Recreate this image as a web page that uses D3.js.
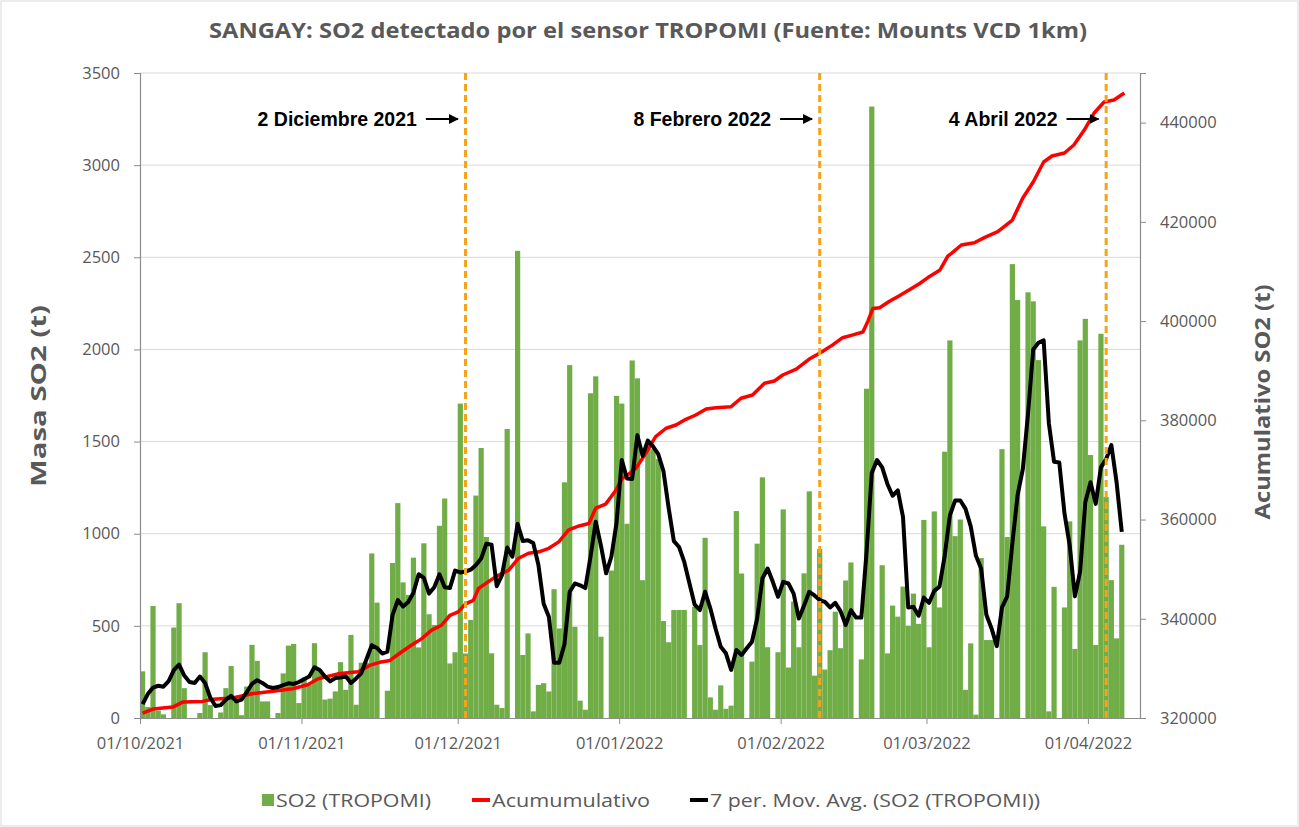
<!DOCTYPE html>
<html>
<head>
<meta charset="utf-8">
<script src="https://cdn.jsdelivr.net/npm/d3@7"></script>
<style>
  body { margin: 0; background: #fff; }
  text { font-family: "Open Sans", sans-serif; }
</style>
</head>
<body>
<svg id="chart" width="1299" height="827"></svg>
<script>
// daily SO2 mass (t), one value per day starting 01/10/2021
var startDate = "2021-10-01";
var endDate = "2022-04-11";
var so2 = [
  253, 60, 608, 40, 20, 0, 491, 623, 162, 0,
  0, 27, 357, 70, 0, 30, 162, 282, 100, 15,
  171, 397, 310, 90, 90, 0, 27, 242, 393, 402,
  81, 220, 180, 406, 262, 100, 105, 144, 303, 153,
  451, 72, 300, 300, 893, 626, 0, 148, 841, 1166,
  736, 668, 870, 383, 948, 563, 505, 1043, 1191, 296,
  357, 1706, 350, 532, 1207, 1465, 982, 351, 72, 54,
  1568, 0, 2535, 342, 459, 36, 180, 189, 144, 699,
  486, 1279, 1915, 495, 94, 45, 1762, 1854, 441, 0,
  800, 1748, 1706, 1054, 1940, 1843, 748, 1477, 1459, 1405,
  526, 411, 586, 586, 586, 0, 604, 396, 978, 112,
  45, 177, 50, 67, 1123, 784, 0, 306, 946, 1306,
  384, 0, 357, 1132, 274, 632, 384, 785, 1230, 230,
  917, 263, 368, 577, 379, 746, 844, 0, 318, 1787,
  3318, 0, 829, 351, 610, 550, 713, 500, 675, 511,
  1075, 384, 1121, 600, 1445, 2049, 987, 1077, 153, 405,
  18, 868, 423, 423, 0, 1459, 982, 2463, 2268, 0,
  2310, 2261, 1942, 1040, 36, 712, 0, 600, 1067, 375,
  2049, 2166, 1427, 396, 2085, 1200, 748, 432, 940
];

// 7 per. moving average as drawn (same days as so2)
var movAvg = [
  75, 130, 165, 175, 170, 200, 260, 290, 230, 195,
  190, 225, 190, 110, 65, 70, 100, 120, 90, 100,
  140, 185, 205, 190, 170, 163, 168, 178, 188, 185,
  195, 210, 225, 275, 260, 225, 199, 217, 220, 226,
  190, 215, 244, 320, 395, 380, 350, 360, 560, 640,
  605, 630, 680, 780, 760, 675, 710, 780, 710, 705,
  800, 790, 795, 805, 830, 865, 946, 940, 715, 775,
  925, 875, 1054, 960, 964, 950, 830, 620, 550, 300,
  300, 400, 685, 730, 720, 705, 875, 1065, 935, 785,
  875, 1060, 1400, 1300, 1297, 1535, 1423, 1505, 1474, 1432,
  1340, 1140, 960, 928, 847, 730, 615, 586, 685, 595,
  486, 387, 351, 261, 369, 342, 378, 414, 541, 757,
  811, 739, 658, 739, 730, 675, 540, 610, 685, 665,
  640, 630, 600, 625, 580, 505, 585, 545, 545, 900,
  1330, 1400, 1360, 1270, 1206, 1235, 1090, 600, 603, 555,
  653, 625, 690, 713, 880, 1100, 1180, 1180, 1135, 1040,
  880, 811, 560, 486, 390, 600, 660, 950, 1210, 1350,
  1650, 2000, 2036, 2049, 1600, 1390, 1387, 1110, 937, 660,
  793, 1171, 1279, 1162, 1360, 1405, 1481, 1280, 1010
];

// cumulative curve, read as (day since 01/10/2021, tonnes)
var cumDay = [0, 2, 5.8, 7.7, 11.5, 13.5, 17.3, 21, 25, 28.8,
  31.7, 33.7, 37.5, 41.4, 43.6, 45.8, 47.5, 49.7, 51.6, 53.6,
  55.5, 57.4, 59, 60.6, 62, 63.5, 64.5, 66.4, 68.4, 70.3,
  72.2, 74.1, 76.1, 78, 79.9, 81.8, 83.8, 85.7, 87, 88.9,
  90.8, 92.1, 93.4, 94.7, 96.6, 98.5, 100.5, 102.4, 104.3, 106.2,
  108.2, 110.1, 113, 114.9, 117.1, 119.4, 121.3, 122.9, 125.5, 128,
  130.3, 132.5, 134.4, 136.4, 138.3, 139.3, 140.2, 141.5, 143.4, 145.3,
  147.3, 149.2, 151.1, 153.1, 154.6, 155.3, 157.2, 159.7, 161.7, 164.2,
  167, 169, 171, 173, 174.6, 177, 178.8, 180.8, 182.7, 184.6,
  186.5, 188.5];
var cumVal = [321000, 321800, 322200, 323200, 323350, 323770, 324030, 324900, 325380, 325900,
  326700, 327900, 328900, 329300, 330600, 331300, 331600, 333300, 334650, 336000,
  337700, 338700, 340700, 341400, 343000, 343700, 346100, 347500, 348800, 349800,
  352200, 353200, 353500, 354200, 355500, 357900, 358700, 359200, 362300, 363100,
  365800, 368300, 369200, 370300, 373350, 376700, 378400, 379060, 380200, 381070,
  382280, 382550, 382750, 384440, 385100, 387460, 387920, 389130, 390300, 392340,
  393730, 395200, 396650, 397220, 397800, 400080, 402520, 402680, 403990, 405120,
  406350, 407580, 409000, 410300, 413100, 413660, 415330, 415800, 416880, 418020,
  420370, 424800, 428030, 432060, 433270, 433870, 435490, 438500, 441940, 444150,
  444560, 445970];

var monthTicks = ["2021-10-01", "2021-11-01", "2021-12-01", "2022-01-01", "2022-02-01", "2022-03-01", "2022-04-01"];
var leftTicks = [0, 500, 1000, 1500, 2000, 2500, 3000, 3500];
var rightTicks = [320000, 340000, 360000, 380000, 400000, 420000, 440000];
var eventDates = ["2021-12-02", "2022-02-08", "2022-04-04"];
var eventLabels = ["2 Diciembre 2021", "8 Febrero 2022", "4 Abril 2022"];
var legendLabels = ["SO2 (TROPOMI)", "Acumumulativo", "7 per. Mov. Avg. (SO2 (TROPOMI))"];

var svg = d3.select("#chart");
var W = 1299, H = 827;
var plotL = 140, plotR = 1140, plotT = 73, plotB = 718;
var grey = "#595959";
var parse = d3.utcParse("%Y-%m-%d");
var t0 = parse(startDate);
var DAY = 864e5;

svg.append("rect").attr("x", 1).attr("y", 1).attr("width", W - 2).attr("height", H - 2)
  .attr("fill", "#fff").attr("stroke", "#d9d9d9");

var x = d3.scaleUtc().domain([t0, parse(endDate)]).range([plotL, plotR]);
var yL = d3.scaleLinear().domain([0, 3500]).range([plotB, plotT]);
var yR = d3.scaleLinear().domain([320000, 450000]).range([plotB, plotT]);
var dayDate = function(d) { return new Date(t0.getTime() + d * DAY); };

// gridlines
svg.append("g").selectAll("line").data(leftTicks.slice(1)).enter().append("line")
  .attr("x1", plotL).attr("x2", plotR)
  .attr("y1", d => yL(d)).attr("y2", d => yL(d))
  .attr("stroke", "#d9d9d9").attr("stroke-width", 1);

// bars
svg.append("g").selectAll("rect").data(so2).enter().append("rect")
  .attr("x", (d, i) => x(dayDate(i)))
  .attr("width", (d, i) => x(dayDate(i + 1)) - x(dayDate(i)))
  .attr("y", d => yL(d))
  .attr("height", d => plotB - yL(d))
  .attr("fill", "#70ad47");

// axes
var axL = svg.append("g").attr("transform", "translate(" + plotL + ",0)")
  .call(d3.axisLeft(yL).tickValues(leftTicks).tickSize(6).tickPadding(14).tickFormat(d3.format("d")));
var axR = svg.append("g").attr("transform", "translate(" + plotR + ",0)")
  .call(d3.axisRight(yR).tickValues(rightTicks).tickSize(6).tickPadding(14).tickFormat(d3.format("d")));
var axB = svg.append("g").attr("transform", "translate(0," + plotB + ")")
  .call(d3.axisBottom(x).tickValues(monthTicks.map(parse)).tickSize(6).tickPadding(13)
    .tickFormat(d3.utcFormat("%d/%m/%Y")));
[axL, axR, axB].forEach(function(a) {
  a.selectAll("path").attr("stroke", "#8c8c8c").attr("stroke-width", 1.2);
  a.selectAll("line").attr("stroke", "#8c8c8c");
  a.selectAll("text").attr("fill", grey).style("font-size", "16.5px")
    .style("font-family", "'Open Sans', sans-serif");
});
axB.select(".domain").attr("d", "M" + plotL + ",0.5H" + plotR);

// cumulative line
var cumPts = cumDay.map((d, i) => [x(dayDate(d + 0.5)), yR(cumVal[i])]);
svg.append("path").datum(cumPts)
  .attr("d", d3.line())
  .attr("fill", "none").attr("stroke", "#ff0000").attr("stroke-width", 3.5)
  .attr("stroke-linejoin", "round");

// moving average line
svg.append("path").datum(movAvg)
  .attr("d", d3.line().x((d, i) => x(dayDate(i + 0.5))).y(d => yL(d)))
  .attr("fill", "none").attr("stroke", "#000").attr("stroke-width", 4)
  .attr("stroke-linejoin", "round");

// event markers
svg.append("defs").append("marker").attr("id", "arr")
  .attr("viewBox", "0 0 10 10").attr("refX", 9).attr("refY", 5)
  .attr("markerWidth", 5).attr("markerHeight", 5).attr("orient", "auto")
  .append("path").attr("d", "M0,0L10,5L0,10z").attr("fill", "#000");

var evDay = d => (parse(d) - t0) / DAY;
var ev = svg.append("g").selectAll("g").data(eventDates).enter().append("g");
ev.append("line")
  .attr("x1", d => x(dayDate(evDay(d) + 0.5)))
  .attr("x2", d => x(dayDate(evDay(d) + 0.5)))
  .attr("y1", plotT).attr("y2", plotB)
  .attr("stroke", "#f5a31a").attr("stroke-width", 3).attr("stroke-dasharray", "7,4");
ev.append("line")
  .attr("x1", d => x(dayDate(evDay(d))) - 37)
  .attr("x2", d => x(dayDate(evDay(d))) - 5)
  .attr("y1", 119).attr("y2", 119)
  .attr("stroke", "#000").attr("stroke-width", 2).attr("marker-end", "url(#arr)");
ev.append("text")
  .attr("x", d => x(dayDate(evDay(d))) - 46)
  .attr("y", 126)
  .attr("text-anchor", "end")
  .style("font-family", "'Liberation Sans', Arial, sans-serif")
  .style("font-weight", "bold").style("font-size", "19.5px")
  .attr("fill", "#000")
  .text((d, i) => eventLabels[i]);

// titles
svg.append("text").attr("x", 648).attr("y", 38).attr("text-anchor", "middle")
  .attr("fill", grey).style("font-weight", "bold").style("font-size", "22px")
  .attr("textLength", 878).attr("lengthAdjust", "spacingAndGlyphs")
  .text("SANGAY: SO2 detectado por el sensor TROPOMI (Fuente: Mounts VCD 1km)");

svg.append("text").attr("transform", "translate(46,396) rotate(-90)")
  .attr("text-anchor", "middle").attr("fill", grey)
  .style("font-weight", "bold").style("font-size", "22px")
  .attr("textLength", 182).attr("lengthAdjust", "spacingAndGlyphs")
  .text("Masa SO2 (t)");

svg.append("text").attr("transform", "translate(1270,402) rotate(-90)")
  .attr("text-anchor", "middle").attr("fill", grey)
  .style("font-weight", "bold").style("font-size", "22px")
  .attr("textLength", 235).attr("lengthAdjust", "spacingAndGlyphs")
  .text("Acumulativo SO2 (t)");

// legend
var legX = [262, 472, 690];
var legW = [155, 158, 330];
var lg = svg.append("g").selectAll("g").data(legendLabels).enter().append("g")
  .attr("transform", (d, i) => "translate(" + legX[i] + ",800)");
lg.filter((d, i) => i === 0).append("rect")
  .attr("x", 0).attr("y", -6).attr("width", 12).attr("height", 12).attr("fill", "#70ad47");
lg.filter((d, i) => i > 0).append("line")
  .attr("x1", 0).attr("x2", 18).attr("y1", 0).attr("y2", 0)
  .attr("stroke", (d, i) => i === 0 ? "#ff0000" : "#000").attr("stroke-width", 4);
lg.append("text").attr("x", (d, i) => i === 0 ? 14 : 20).attr("y", 6.5)
  .attr("fill", grey).style("font-size", "18px")
  .attr("textLength", (d, i) => legW[i]).attr("lengthAdjust", "spacingAndGlyphs")
  .text(d => d);
</script>
</body>
</html>
